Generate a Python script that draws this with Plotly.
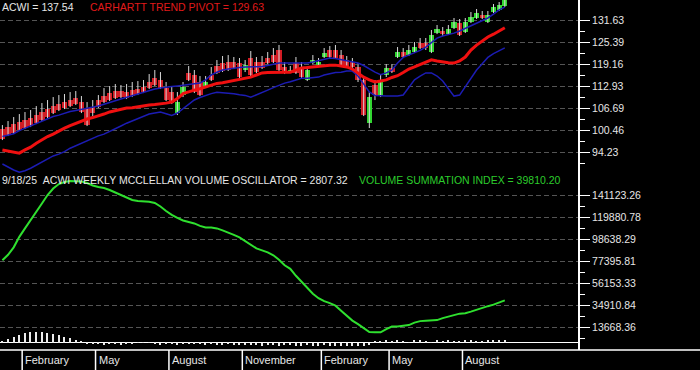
import plotly.graph_objects as go
import pandas as pd

# ---------------- data ----------------
dates = pd.date_range("2024-01-05", periods=90, freq="7D")

price_open = [100.84, 101.40, 102.26, 102.82, 103.39, 103.96, 104.82, 105.67, 106.52, 107.37,
              107.94, 108.51, 109.08, 109.65, 108.51, 106.80, 107.09, 109.08, 110.22, 111.07,
              111.64, 111.64, 111.35, 111.92, 112.21, 112.78, 114.20, 115.33, 114.77, 112.49,
              111.35, 105.38, 110.50, 116.76, 116.19, 114.20, 112.78, 116.19, 118.75, 119.60,
              119.88, 119.88, 119.60, 117.61, 121.02, 119.88, 119.88, 121.02, 121.87, 123.30,
              118.46, 117.04, 119.60, 118.18, 114.77, 119.60, 119.03, 121.31, 123.30, 123.30,
              121.87, 120.45, 119.88, 118.46, 114.77, 102.54, 113.34, 110.50, 116.19, 118.18,
              121.31, 122.73, 121.87, 122.73, 125.29, 125.29, 122.73, 128.13, 128.70, 127.84,
              129.55, 130.97, 128.41, 131.26, 132.39, 133.24, 131.26, 134.10, 134.67, 135.80]
price_high = [101.97, 103.11, 104.25, 105.10, 105.67, 106.24, 107.37, 108.23, 109.08, 109.93,
              110.50, 110.79, 111.35, 111.64, 110.22, 108.51, 109.08, 110.50, 112.49, 113.06,
              113.63, 113.34, 113.63, 114.20, 114.48, 114.77, 116.47, 117.61, 117.04, 114.20,
              113.06, 111.35, 114.20, 118.75, 117.61, 115.90, 115.90, 118.46, 120.45, 121.59,
              121.87, 121.31, 121.02, 120.45, 123.01, 121.31, 121.59, 122.73, 123.86, 124.72,
              119.88, 118.75, 121.31, 119.88, 118.75, 121.87, 121.02, 123.86, 124.43, 124.72,
              123.30, 121.59, 121.02, 119.60, 115.90, 111.35, 114.77, 116.19, 119.31, 119.31,
              124.15, 123.86, 124.72, 125.57, 126.71, 126.71, 128.98, 130.40, 129.83, 130.40,
              132.39, 132.11, 132.39, 134.10, 134.95, 134.38, 134.38, 136.37, 136.94, 137.79]
price_low = [97.71, 98.85, 99.41, 100.27, 100.84, 101.40, 102.26, 103.11, 103.96, 105.10,
             105.95, 106.52, 107.09, 107.66, 105.38, 101.69, 104.53, 106.80, 108.23, 108.79,
             109.36, 109.65, 109.36, 109.93, 110.50, 111.07, 112.21, 113.06, 112.21, 108.79,
             107.94, 104.82, 109.93, 114.48, 111.07, 110.22, 112.49, 114.48, 116.47, 117.04,
             117.33, 117.89, 115.33, 117.04, 115.90, 116.76, 117.89, 119.31, 119.60, 117.04,
             116.47, 116.76, 116.47, 115.33, 114.48, 119.31, 118.75, 121.02, 121.02, 120.74,
             118.75, 118.18, 118.18, 114.20, 104.53, 101.12, 109.08, 109.93, 115.62, 116.76,
             121.02, 121.02, 121.59, 122.44, 123.58, 123.30, 122.44, 127.84, 127.28, 127.56,
             129.27, 127.28, 128.13, 130.97, 132.11, 132.11, 130.97, 133.81, 134.38, 135.52]
price_close = [97.99, 99.13, 99.70, 100.55, 101.12, 101.69, 102.54, 103.39, 104.25, 105.38,
               106.24, 106.80, 107.37, 107.94, 105.67, 101.97, 105.38, 107.09, 108.51, 109.08,
               109.65, 109.93, 109.65, 110.22, 110.79, 111.35, 112.49, 113.34, 112.49, 109.08,
               108.23, 108.51, 112.78, 114.77, 111.35, 110.50, 114.20, 114.77, 116.76, 117.33,
               117.61, 118.18, 115.62, 119.03, 116.19, 117.04, 118.18, 119.60, 119.88, 117.61,
               116.76, 117.61, 116.76, 115.62, 117.61, 120.45, 119.88, 122.44, 121.31, 121.02,
               119.03, 118.46, 118.46, 114.77, 104.82, 109.93, 110.50, 114.77, 118.18, 117.04,
               122.73, 121.31, 123.30, 124.15, 123.86, 123.86, 127.56, 129.27, 127.84, 129.27,
               131.26, 127.56, 131.26, 132.68, 133.81, 132.39, 133.24, 135.52, 136.09, 137.54]

trend_pivot = [94.9, 94.6, 94.2, 94.0, 94.9, 95.7, 96.8, 97.8, 98.7, 99.4,
               100.3, 101.1, 101.8, 102.5, 103.1, 103.7, 104.1, 104.5, 105.1, 105.7,
               106.1, 106.5, 106.8, 106.9, 107.2, 107.5, 107.7, 107.8, 107.9, 108.2,
               108.5, 109.5, 110.9, 111.5, 111.9, 112.3, 112.8, 113.3, 113.8, 114.0,
               114.3, 114.8, 115.0, 115.3, 115.6, 116.2, 116.8, 116.9, 117.0, 117.0,
               117.0, 117.0, 117.6, 118.2, 118.3, 118.5, 118.5, 118.7, 119.0, 119.0,
               118.7, 118.5, 117.9, 116.8, 115.6, 114.8, 114.2, 114.5, 114.8, 115.5,
               116.0, 116.9, 117.9, 118.5, 119.2, 119.9, 120.5, 120.2, 119.9, 119.7,
               119.6, 120.2, 121.3, 123.3, 124.7, 125.9, 127.0, 127.8, 128.7, 129.63]
band_upper = [98.7, 99.0, 99.5, 100.4, 101.1, 101.8, 102.5, 103.1, 103.8, 104.4,
              104.8, 105.4, 105.8, 106.1, 106.4, 106.7, 106.9, 107.4, 107.9, 108.5,
              108.9, 109.4, 109.9, 110.4, 110.8, 111.4, 111.8, 112.2, 112.5, 112.8,
              112.9, 113.1, 113.3, 113.6, 113.8, 113.9, 114.8, 116.2, 117.0, 117.6,
              117.9, 118.2, 118.3, 118.5, 118.5, 118.5, 118.6, 118.9, 119.3, 119.6,
              119.6, 119.6, 119.6, 119.6, 119.6, 119.9, 120.2, 120.7, 121.0, 120.9,
              120.6, 120.4, 120.0, 119.6, 118.9, 117.9, 117.0, 116.3, 116.8, 117.6,
              119.6, 121.2, 121.9, 122.4, 123.2, 124.1, 125.3, 126.7, 127.3, 127.6,
              128.1, 128.7, 129.4, 130.1, 130.8, 131.5, 132.4, 133.5, 134.7, 135.5]
band_lower = [90.9, 90.0, 89.2, 88.6, 89.0, 89.7, 90.6, 91.6, 92.5, 93.2,
              93.7, 94.4, 95.4, 96.1, 96.9, 97.6, 98.3, 98.9, 99.4, 100.1,
              100.8, 101.7, 102.5, 103.1, 103.8, 104.5, 105.1, 105.4, 105.7, 105.2,
              104.7, 105.4, 106.7, 107.9, 109.1, 109.8, 110.4, 110.9, 111.3, 111.2,
              111.1, 110.9, 110.6, 110.4, 109.9, 110.5, 111.2, 111.9, 112.6, 113.3,
              113.9, 114.3, 114.8, 115.3, 115.3, 115.5, 115.6, 116.2, 116.6, 116.9,
              117.0, 117.3, 117.3, 115.9, 113.6, 111.4, 110.4, 110.2, 110.2, 110.2,
              110.2, 110.5, 112.5, 114.8, 115.9, 116.8, 116.8, 115.9, 114.5, 112.2,
              110.2, 110.5, 112.8, 115.3, 117.6, 119.4, 121.2, 122.3, 123.1, 123.9]

summation_index = [78554, 83865, 91106, 101245, 109452, 117177, 124901, 133592, 141799, 148075,
                   152420, 154351, 155317, 155317, 154834, 153386, 150972, 149523, 148558, 146627,
                   144213, 141316, 138902, 136971, 136005, 135523, 135330, 134074, 130695, 126350,
                   122487, 119591, 117177, 115728, 114280, 111866, 110417, 110417, 109452, 107521,
                   105590, 103176, 100762, 97383, 93520, 90141, 88210, 86279, 83382, 79037,
                   73726, 70347, 63588, 57794, 52001, 46207, 41862, 38966, 37035, 34621,
                   29793, 24482, 20137, 16755, 12895, 9033, 8840, 8840, 11930, 14344,
                   14537, 14827, 15792, 18206, 19654, 19944, 20330, 20620, 22551, 24289,
                   25448, 26896, 27379, 28827, 30758, 32689, 34138, 35586, 37517, 39810.20]

volume_osc = [2000, 3800, 5600, 7400, 9800, 10200, 10400, 10300, 9600, 8800,
              7800, 5600, 4400, 3000, 600, -1500, -1800, -1200, -2000, -1600,
              -1400, -2200, -1900, -1500, -400, -300, -500, -1700, -2100, -1400,
              -1800, -2400, -1600, -1900, -1300, -1700, -2000, -1800, -2200, -2600,
              -1800, -2300, -2800, -2500, -2100, -2700, -3100, -2400, -2800, -3300,
              -2900, -2600, -3000, -3400, -2700, -3100, -3500, -2800, -3200, -3600,
              -3000, -3300, -3700, -3100, -3400, -2200, 900, 1800, 2400, 600,
              2300, 1500, 400, 2100, 2800, 800, 300, 2500, 1900, 3000,
              600, 1400, 2600, 2200, 700, 1700, 2600, 2900, 2500, 2807.32]

price_ticks = [94.23, 100.46, 106.69, 112.93, 119.16, 125.39, 131.63]
vsi_ticks = [13668.36, 34910.84, 56153.33, 77395.81, 98638.29, 119880.78, 141123.26]
month_labels = {2: "February", 5: "May", 8: "August", 11: "November"}

# ---------------- styling ----------------
FONT = "Liberation Sans, Arial, sans-serif"
TXT = "#e6e6e6"
RED_C = "#d21c24"
GRN_C = "#32d632"
GRID = "#555555"

idx = list(range(len(dates)))
W_PLOT, H_PLOT = 578, 350
x_first, x_step = 2.4, 5.645
x_range = [-x_first / x_step, (W_PLOT - x_first) / x_step]
split = (H_PLOT - 176) / H_PLOT

fig = go.Figure()

# wicks
wx, wy = [], []
for i, lo, hi in zip(idx, price_low, price_high):
    wx += [i, i, None]
    wy += [lo, hi, None]
fig.add_trace(go.Scatter(x=wx, y=wy, mode="lines", line=dict(color="#d8d8d8", width=1),
                         xaxis="x", yaxis="y", hoverinfo="skip"))
# bodies
body_col = [GRN_C if c >= o else RED_C for o, c in zip(price_open, price_close)]
fig.add_trace(go.Bar(x=idx, base=price_open,
                     y=[c - o for o, c in zip(price_open, price_close)],
                     width=0.92, marker=dict(color=body_col, line=dict(width=0)),
                     xaxis="x", yaxis="y"))
fig.add_trace(go.Scatter(x=idx, y=band_upper, mode="lines", line=dict(color="#1c1cb4", width=1.5),
                         xaxis="x", yaxis="y"))
fig.add_trace(go.Scatter(x=idx, y=band_lower, mode="lines", line=dict(color="#1c1cb4", width=1.5),
                         xaxis="x", yaxis="y"))
fig.add_trace(go.Scatter(x=idx, y=trend_pivot, mode="lines", line=dict(color="#f01010", width=3),
                         xaxis="x", yaxis="y"))

# bottom panel
fig.add_trace(go.Bar(x=idx, y=volume_osc, width=0.24,
                     marker=dict(color="#ececec", line=dict(width=0)),
                     xaxis="x2", yaxis="y3"))
fig.add_trace(go.Scatter(x=idx, y=summation_index, mode="lines",
                         line=dict(color="#2fe02f", width=2), xaxis="x2", yaxis="y2"))

minor_p = [(a + b) / 2 for a, b in zip(price_ticks[:-1], price_ticks[1:])]
minor_p = [price_ticks[0] - (price_ticks[1] - price_ticks[0]) / 2] + minor_p
minor_v = [(a + b) / 2 for a, b in zip(vsi_ticks[:-1], vsi_ticks[1:])]
minor_v = [vsi_ticks[0] - (vsi_ticks[1] - vsi_ticks[0]) / 2] + minor_v

yax_common = dict(side="right", showline=True, linecolor="white", linewidth=2,
                  ticks="outside", ticklen=10, tickcolor="white", tickwidth=1,
                  showgrid=True, gridcolor=GRID, griddash="5px,3px", gridwidth=1,
                  zeroline=False, tickfont=dict(family=FONT, size=10.5, color=TXT),
                  fixedrange=True)

p_hi = 131.63 + 20.7 * 0.28419
p_lo = p_hi - 176 * 0.28419
v_per_px = (141123.26 - 13668.36) / 131.6
v_hi = 141123.26 + 19.7 * v_per_px
v_lo = 13668.36 - 22.7 * v_per_px

fig.update_layout(
    width=700, height=370, margin=dict(l=0, r=122, t=0, b=20),
    paper_bgcolor="black", plot_bgcolor="black", showlegend=False, barmode="overlay",
    bargap=0,
    xaxis=dict(domain=[0, 1], range=x_range, anchor="y", showgrid=False, zeroline=False,
               showticklabels=False, ticks="", fixedrange=True),
    xaxis2=dict(domain=[0, 1], range=x_range, anchor="y2", showgrid=False, zeroline=False,
                showticklabels=False, ticks="", fixedrange=True),
    yaxis=dict(domain=[split, 1], range=[p_lo, p_hi], anchor="x",
               tickmode="array", tickvals=price_ticks,
               ticktext=[f"{v:.2f}" for v in price_ticks],
               minor=dict(tickmode="array", tickvals=minor_p, ticks="outside", ticklen=5,
                          tickcolor="white", showgrid=False),
               **yax_common),
    yaxis2=dict(domain=[0, split], range=[v_lo, v_hi], anchor="x2",
                tickmode="array", tickvals=vsi_ticks,
                ticktext=[f"{v:.2f}" for v in vsi_ticks],
                minor=dict(tickmode="array", tickvals=minor_v, ticks="outside", ticklen=5,
                           tickcolor="white", showgrid=False),
                **yax_common),
    yaxis3=dict(domain=[0, split], overlaying="y2", range=[-7500, 166500], anchor="x2",
                visible=True, showticklabels=False, showgrid=False, ticks="",
                zeroline=True, zerolinecolor="white", zerolinewidth=1, fixedrange=True),
)

shapes = [dict(type="line", xref="paper", yref="paper", x0=0, x1=700 / W_PLOT, y0=0, y1=0,
               line=dict(color="white", width=1.5))]
annotations = []
for i in range(1, len(dates)):
    m = dates[i].month
    if m != dates[i - 1].month and m in month_labels:
        shapes.append(dict(type="line", xref="x2", yref="paper", x0=i - 0.5, x1=i - 0.5,
                           y0=-20 / H_PLOT, y1=0, line=dict(color="white", width=1.5)))
        annotations.append(dict(xref="x2", yref="paper", x=i - 0.5, y=-10 / H_PLOT,
                                text=month_labels[m], showarrow=False, xanchor="left",
                                yanchor="middle", xshift=1,
                                font=dict(family=FONT, size=11, color=TXT)))

def head(x_px, y_px, text, color):
    return dict(xref="paper", yref="paper", x=x_px / W_PLOT, y=1 - y_px / H_PLOT, text=text,
                showarrow=False, xanchor="left", yanchor="middle",
                font=dict(family=FONT, size=10.5, color=color))

annotations += [
    head(0, 7, f"ACWI = {price_close[-1]:.2f}", TXT),
    head(88, 7, f"CARHARTT TREND PIVOT = {trend_pivot[-1]:.2f}", "#e01a1a"),
    head(0, 180, f"9/18/25\u00a0\u00a0ACWI WEEKLY MCCLELLAN VOLUME OSCILLATOR = {volume_osc[-1]:.2f}", TXT),
    head(357, 180, f"VOLUME SUMMATION INDEX = {summation_index[-1]:.2f}", "#2ccc2c"),
]
fig.update_layout(shapes=shapes, annotations=annotations)

fig.write_html("out.html")
